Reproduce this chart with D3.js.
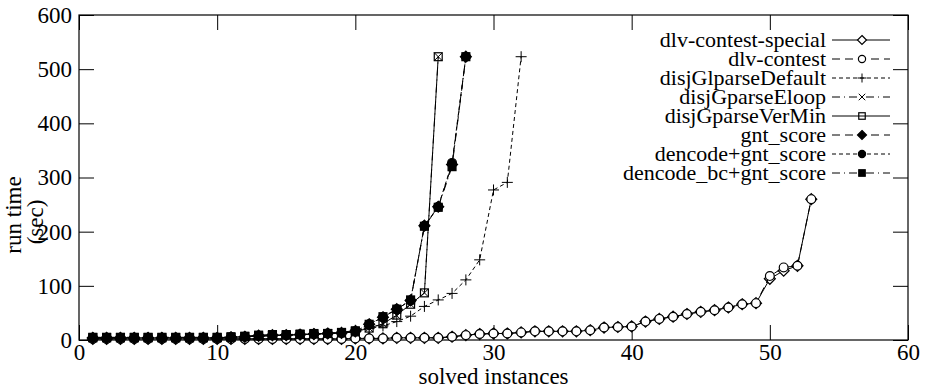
<!DOCTYPE html>
<html>
<head>
<meta charset="utf-8">
<script src="https://cdn.jsdelivr.net/npm/d3@7"></script>
<style>
  body { margin: 0; background: #fff; }
  svg, svg text { font-family: "Liberation Serif", "Times New Roman", Times, "DejaVu Serif", serif; }
</style>
</head>
<body>
<div id="chart"></div>
<script>
// values, x = 1..n for every series
const dlvSpecial = [2,2,2,2,2,2,2,2,2,2,2,2,2,2,2,2,2,2,2,3,3,3,4,4,4,4,6,9,11,12,12,14,16,16,16,16,18,23,24,25,34,39,43,48,52,55,60,66,68,113,128,137,260];
const dlvContest = [2,2,2,2,2,2,2,2,2,2,2,2,2,2,2,2,2,2,2,3,3,3,4,4,4,4,6,9,11,12,12,14,16,16,16,16,18,23,24,25,34,39,43,48,52,55,60,66,68,118,134,137,260];
const glDefault = [4,4,4,4,4,4,4,4,4,4,5,6,7,8,9,10,11,12,14,18,21,26,34,44,62,74,86,111,148,277,291,523];
const gEloop = [4,4,4,4,4,4,4,4,4,4,5,6,7,8,9,10,11,12,13,15,22,30,45,66,87,523];
const gVerMin = [4,4,4,4,4,4,4,4,4,4,5,6,7,8,9,10,11,12,13,15,22,30,46,66,87,523];
const gntScore = [4,4,4,4,4,4,4,4,4,4,5,6,8,9,9,10,11,12,13,16,29,42,57,73,211,246,324,523];
const dencodeGnt = [4,4,4,4,4,4,4,4,4,4,5,6,8,9,9,10,11,12,13,16,29,42,57,73,211,246,327,523];
const dencodeBcGnt = [5,5,5,5,5,5,5,5,5,5,6,7,9,10,10,11,12,12,14,17,29,43,57,74,210,245,320,523];

const seriesNames = ["dlv-contest-special","dlv-contest","disjGlparseDefault","disjGparseEloop",
  "disjGparseVerMin","gnt_score","dencode+gnt_score","dencode_bc+gnt_score"];
const seriesValues = [dlvSpecial, dlvContest, glDefault, gEloop, gVerMin, gntScore, dencodeGnt, dencodeBcGnt];
const xTicks = [0,10,20,30,40,50,60];
const yTicks = [0,100,200,300,400,500,600];

// line style and point type per series (gnuplot look)
const dashes = [null, "8,5", "4,3", "8,4,1,4", null, "8,5", "4,3", "8,4,1,4"];
const points = ["diamond","circle","plus","cross","square","diamondF","circleF","squareF"];

const width = 925, height = 390;
const margin = { top: 15, right: 17, bottom: 50, left: 79 };
const fontSize = 23;
const serif = "'Liberation Serif', 'Times New Roman', Times, 'DejaVu Serif', serif";

const svg = d3.select("#chart").append("svg")
  .attr("width", width).attr("height", height)
  .attr("font-family", serif);

const x = d3.scaleLinear().domain([0, 60]).range([margin.left, width - margin.right]);
const y = d3.scaleLinear().domain([0, 600]).range([height - margin.bottom, margin.top]);

// axes with inward ticks
const tick = 15;
const gx = svg.append("g")
  .attr("transform", `translate(0,${y(0)})`)
  .call(d3.axisBottom(x).tickValues(xTicks).tickSizeInner(-tick).tickSizeOuter(0).tickPadding(4));
const gy = svg.append("g")
  .attr("transform", `translate(${x(0)},0)`)
  .call(d3.axisLeft(y).tickValues(yTicks).tickSizeInner(-tick).tickSizeOuter(0).tickPadding(7));
const gxTop = svg.append("g")
  .attr("transform", `translate(0,${y(600)})`)
  .call(d3.axisTop(x).tickValues(xTicks).tickSizeInner(-tick).tickSizeOuter(0).tickFormat(""));
const gyRight = svg.append("g")
  .attr("transform", `translate(${x(60)},0)`)
  .call(d3.axisRight(y).tickValues(yTicks).tickSizeInner(-tick).tickSizeOuter(0).tickFormat(""));

[gx, gy, gxTop, gyRight].forEach(g => {
  g.attr("font-family", serif);
  g.select(".domain").remove();
  g.selectAll("line").attr("stroke", "#000").attr("stroke-width", 1);
  g.selectAll("text").attr("font-size", fontSize).attr("fill", "#000");
});

svg.append("rect")
  .attr("x", x(0)).attr("y", y(600))
  .attr("width", x(60) - x(0)).attr("height", y(0) - y(600))
  .attr("fill", "none").attr("stroke", "#000").attr("stroke-width", 1.2);

// axis titles
svg.append("text")
  .attr("x", (x(0) + x(60)) / 2).attr("y", 384)
  .attr("text-anchor", "middle").attr("font-size", fontSize)
  .text("solved instances");
svg.append("text")
  .attr("transform", "translate(21,215) rotate(-90)")
  .attr("text-anchor", "middle").attr("font-size", fontSize)
  .text("run time");
svg.append("text")
  .attr("transform", "translate(43,222) rotate(-90)")
  .attr("text-anchor", "middle").attr("font-size", fontSize)
  .text("(sec)");

// marker drawing
function drawPoint(g, type, cx, cy, s) {
  if (type === "diamond" || type === "diamondF") {
    g.append("path").attr("d", `M${cx},${cy - s}L${cx + s},${cy}L${cx},${cy + s}L${cx - s},${cy}Z`)
      .attr("fill", type === "diamondF" ? "#000" : "#fff").attr("stroke", "#000").attr("stroke-width", 1.2);
  } else if (type === "circle" || type === "circleF") {
    g.append("circle").attr("cx", cx).attr("cy", cy).attr("r", s * 0.8)
      .attr("fill", type === "circleF" ? "#000" : "#fff").attr("stroke", "#000").attr("stroke-width", 1.2);
  } else if (type === "square" || type === "squareF") {
    const h = s * 0.72;
    g.append("rect").attr("x", cx - h).attr("y", cy - h).attr("width", 2 * h).attr("height", 2 * h)
      .attr("fill", type === "squareF" ? "#000" : "none").attr("stroke", "#000").attr("stroke-width", 1.2);
  } else if (type === "plus") {
    g.append("path").attr("d", `M${cx - s},${cy}H${cx + s}M${cx},${cy - s}V${cy + s}`)
      .attr("stroke", "#000").attr("stroke-width", 1);
  } else if (type === "cross") {
    const h = s * 0.72;
    g.append("path").attr("d", `M${cx - h},${cy - h}L${cx + h},${cy + h}M${cx - h},${cy + h}L${cx + h},${cy - h}`)
      .attr("stroke", "#000").attr("stroke-width", 1);
  }
}

const line = d3.line().x((d, i) => x(i + 1)).y(d => y(d));

seriesValues.forEach((vals, k) => {
  const g = svg.append("g");
  g.append("path").datum(vals)
    .attr("d", line)
    .attr("fill", "none").attr("stroke", "#000").attr("stroke-width", 1)
    .attr("stroke-dasharray", dashes[k]);
  vals.forEach((v, i) => drawPoint(g, points[k], x(i + 1), y(v), 5.5));
});

// legend
const legendTop = 40, legendStep = 19;
seriesNames.forEach((name, k) => {
  const ly = legendTop + k * legendStep;
  const g = svg.append("g");
  g.append("text").attr("x", 826).attr("y", ly).attr("dy", "0.32em")
    .attr("text-anchor", "end").attr("font-size", 22).text(name);
  g.append("line").attr("x1", 832).attr("x2", 890).attr("y1", ly).attr("y2", ly)
    .attr("stroke", "#000").attr("stroke-width", 1).attr("stroke-dasharray", dashes[k]);
  drawPoint(g, points[k], 862, ly, 4.5);
});
</script>
</body>
</html>
